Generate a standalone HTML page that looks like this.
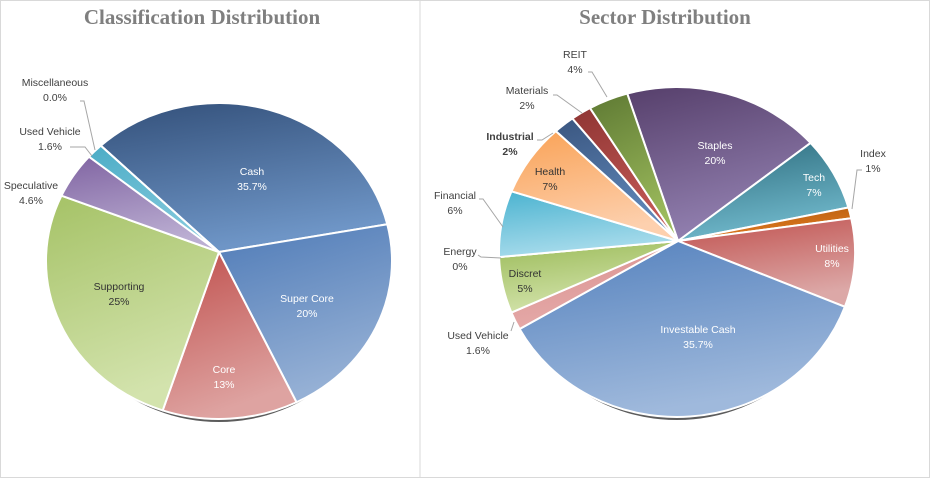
<!DOCTYPE html>
<html><head><meta charset="utf-8"><style>
html,body{margin:0;padding:0;background:#fff}
#wrap{position:relative;width:930px;height:478px;overflow:hidden;background:#fff}
svg{position:absolute;left:0;top:0}
text{font-family:"Liberation Sans",sans-serif;font-size:10.5px}
.title{font-family:"Liberation Serif",serif;font-weight:bold;font-size:21px;fill:#7f7f7f}
</style></head><body>
<div id="wrap">
<svg id="svg" width="930" height="478" viewBox="0 0 930 478">
<defs id="defs"></defs>
<rect x="0.5" y="0.5" width="929" height="477" fill="#fff" stroke="#d9d9d9"/>
<line x1="420" y1="0" x2="420" y2="478" stroke="#d9d9d9"/>
<text class="title" x="202" y="24" text-anchor="middle">Classification Distribution</text>
<text class="title" x="665" y="24" text-anchor="middle">Sector Distribution</text>
<g id="g1"></g>
<g id="g2"></g>
</svg>
</div>
<script>
// Classification pie data
const classCategories = ["Cash","Super Core","Core","Supporting","Speculative","Used Vehicle","Miscellaneous"];
const classValues = [35.7,20,13,25,4.6,1.6,0.0];
const classLabels = ["35.7%","20%","13%","25%","4.6%","1.6%","0.0%"];
// Sector pie data
const sectorCategories = ["Staples","Tech","Index","Utilities","Investable Cash","Used Vehicle","Discret","Energy","Financial","Health","Industrial","Materials","REIT"];
const sectorValues = [20,7,1,8,35.7,1.6,5,0,6,7,2,2,4];
const sectorLabels = ["20%","7%","1%","8%","35.7%","1.6%","5%","0%","6%","7%","2%","2%","4%"];

const NS="http://www.w3.org/2000/svg";
const defs=document.getElementById('defs');
function mk(tag,attrs,parent){const e=document.createElementNS(NS,tag);for(const k in attrs)e.setAttribute(k,attrs[k]);parent.appendChild(e);return e;}

const classStyle=[
 {c1:"#33507a",c2:"#6e95c6",tc:"#fff"},{c1:"#4f7bb7",c2:"#95b0d5",tc:"#fff"},{c1:"#c0504d",c2:"#dea3a1",tc:"#fff"},
 {c1:"#a5c266",c2:"#d3e3ad",tc:"#333"},{c1:"#8064a2",c2:"#bbaed2",tc:"#333"},{c1:"#4bacc6",c2:"#85cadd",tc:"#333"},{c1:"#8a8a8a",c2:"#bbb",tc:"#333"}];
const classLab=[
 {x:252,y:171,out:0},{x:307,y:298,out:0},{x:224,y:369,out:0},{x:119,y:286,out:0},{x:31,y:185,out:1},{x:50,y:131,out:1,l:[70,147,85,147,92,156]},{x:55,y:82,out:1,l:[80,101,84,101,95,150]}];
const sectorStyle=[
 {c1:"#563f6b",c2:"#9280b0"},{c1:"#2c6b7c",c2:"#70b8cb"},{c1:"#b45c10",c2:"#e07a1f"},{c1:"#c0504d",c2:"#dca8a7"},
 {c1:"#5481bd",c2:"#9fb9dc"},{c1:"#d9908e",c2:"#e5aaa9"},{c1:"#9bbb59",c2:"#d3e3ab"},{c1:"#c0504d",c2:"#c0504d"},
 {c1:"#4bb3d0",c2:"#a9dcec"},{c1:"#f9a256",c2:"#fdd0ae"},{c1:"#3a5680",c2:"#6189bb"},{c1:"#8f3533",c2:"#c45a57"},{c1:"#5e7933",c2:"#9cbb5c"}];
const sectorLab=[
 {x:715,y:145,out:0,tc:"#fff"},{x:814,y:177,out:0,tc:"#fff"},{x:873,y:153,out:1,l:[862,170,857,170,852,209]},{x:832,y:248,out:0,tc:"#fff"},
 {x:698,y:329,out:0,tc:"#fff"},{x:478,y:335,out:1,l:[511,331,514,322]},{x:525,y:273,out:0,tc:"#333"},{x:460,y:251,out:1,l:[478,255,481,257,501,258]},
 {x:455,y:195,out:1,l:[479,199,483,199,503,227]},{x:550,y:171,out:0,tc:"#333"},{x:510,y:136,out:1,bold:1,l:[537,140,542,140,553,133]},
 {x:527,y:90,out:1,l:[553,95,557,95,582,113]},{x:575,y:54,out:1,l:[588,72,592,72,607,97]}];

function pie(g,id,cats,vals,labs,styles,pos,P,E,start){
  const tot=vals.reduce((a,b)=>a+b,0);
  function hit(deg){const t=deg*Math.PI/180,dx=Math.cos(t),dy=Math.sin(t);
    const ox=P[0]-E.cx,oy=P[1]-E.cy;
    const A=dx*dx/(E.rx*E.rx)+dy*dy/(E.ry*E.ry),B=2*(ox*dx/(E.rx*E.rx)+oy*dy/(E.ry*E.ry)),C=ox*ox/(E.rx*E.rx)+oy*oy/(E.ry*E.ry)-1;
    const s=(-B+Math.sqrt(B*B-4*A*C))/(2*A);return [P[0]+s*dx,P[1]+s*dy];}
  const sh=mk('ellipse',{cx:E.cx,cy:E.cy+4,rx:E.rx-8,ry:E.ry-1,fill:"#333",opacity:"0.8"},g);
  
  
  let a=start;
  vals.forEach((v,i)=>{
    const sweep=v/tot*360;const st=styles[i];
    const gid=id+'grad'+i;
    const gr=mk('linearGradient',{id:gid,x1:0,y1:0,x2:0.3,y2:1},defs);
    mk('stop',{offset:0,'stop-color':st.c1},gr);mk('stop',{offset:1,'stop-color':st.c2},gr);
    const p1=hit(a),p2=hit(a+sweep);
    let d;
    if(sweep<=0){d=`M${P[0]},${P[1]}L${p1[0]},${p1[1]}Z`;}
    else d=`M${P[0]},${P[1]}L${p1[0].toFixed(2)},${p1[1].toFixed(2)}A${E.rx},${E.ry} 0 ${sweep>180?1:0} 1 ${p2[0].toFixed(2)},${p2[1].toFixed(2)}Z`;
    const path=mk('path',{d:d,fill:`url(#${gid})`,stroke:"#fff","stroke-width":2,"stroke-linejoin":"round"},g);
    
    
    a+=sweep;
  });
  pos.forEach((p,i)=>{
    if(p.l){const pl=mk('polyline',{points:p.l.join(','),fill:"none",stroke:"#a6a6a6","stroke-width":1},g);
      
      }
    const col=p.out?"#404040":(p.tc||styles[i].tc||"#fff");
    const t=mk('text',{x:p.x,y:p.y+4,'text-anchor':'middle',fill:col},g);
    if(p.bold)t.setAttribute('font-weight','bold');
    
    
    const s1=mk('tspan',{x:p.x},t);s1.textContent=cats[i];
    const s2=mk('tspan',{x:p.x,dy:15},t);s2.textContent=labs[i];
  });
}
pie(document.getElementById('g1'),'class',classCategories,classValues,classLabels,classStyle,classLab,[219,252],{cx:219,cy:261,rx:173,ry:158},-138);
pie(document.getElementById('g2'),'sector',sectorCategories,sectorValues,sectorLabels,sectorStyle,sectorLab,[678,241],{cx:677,cy:252,rx:178,ry:165},-109);
</script>
</body></html>
